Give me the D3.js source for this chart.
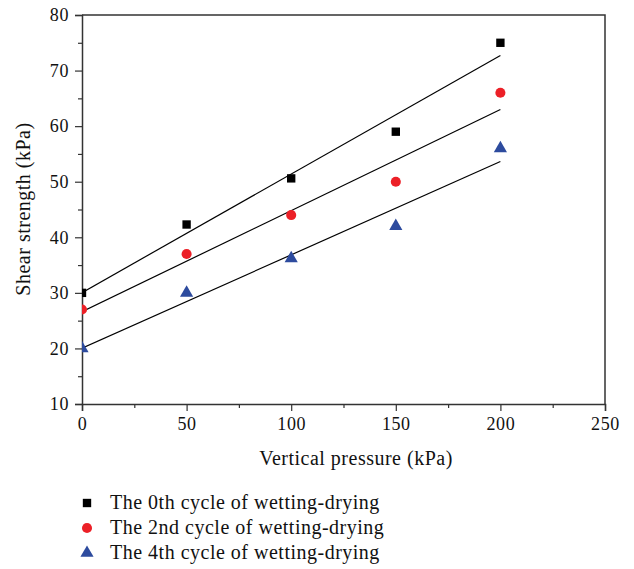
<!DOCTYPE html>
<html>
<head>
<meta charset="utf-8">
<script src="https://cdn.jsdelivr.net/npm/d3@7"></script>
<style>
  body { margin: 0; background: #fff; }
  text { font-family: "Liberation Serif", "DejaVu Serif", serif; fill: #111; }
</style>
</head>
<body>
<script>
// data
var pressure = [0, 50, 100, 150, 200];
var cycle0 = [30, 42.3, 50.6, 59, 75];
var cycle2 = [27, 37, 44, 50, 66];
var cycle4 = [20, 30, 36.2, 42, 56];
var seriesNames = ["The 0th cycle of wetting-drying", "The 2nd cycle of wetting-drying", "The 4th cycle of wetting-drying"];
var xTicks = [0, 50, 100, 150, 200, 250];
var yTicks = [10, 20, 30, 40, 50, 60, 70, 80];

var svgWidth = 634, svgHeight = 569;
// plot box (dont call these top/left, window.top is read only)
var plotLeft = 82, plotRight = 605, plotTop = 15, plotBottom = 404;

var svg = d3.select("body").append("svg")
            .attr("width", svgWidth)
            .attr("height", svgHeight);

var x = d3.scaleLinear().domain([0, 250]).range([plotLeft, plotRight]);
var y = d3.scaleLinear().domain([10, 80]).range([plotBottom, plotTop]);

var series = [
  { name: seriesNames[0], values: cycle0, shape: d3.symbolSquare, size: 70, color: "#000000" },
  { name: seriesNames[1], values: cycle2, shape: d3.symbolCircle, size: 80, color: "#ec2027" },
  { name: seriesNames[2], values: cycle4, shape: d3.symbolTriangle, size: 75, color: "#2d4b9e" }
];

// least squares fit for each series
function fit(vals) {
  var mx = d3.mean(pressure), my = d3.mean(vals);
  var num = d3.sum(pressure, function(p, i) { return (p - mx) * (vals[i] - my); });
  var den = d3.sum(pressure, function(p) { return (p - mx) * (p - mx); });
  var b = num / den;
  return { a: my - b * mx, b: b };
}

svg.append("clipPath").attr("id", "plotclip")
   .append("rect").attr("x", plotLeft).attr("y", plotTop)
   .attr("width", plotRight - plotLeft).attr("height", plotBottom - plotTop);

// frame (top + right)
svg.append("path")
   .attr("d", "M" + plotLeft + "," + plotTop + "H" + plotRight + "V" + plotBottom)
   .attr("fill", "none").attr("stroke", "#333").attr("stroke-width", 1.5);

// axes
var xAxis = svg.append("g").attr("transform", "translate(0," + plotBottom + ")")
   .call(d3.axisBottom(x).tickValues(xTicks).tickSize(7).tickPadding(6));
var xMinor = svg.append("g").attr("transform", "translate(0," + plotBottom + ")")
   .call(d3.axisBottom(x).tickValues([25, 75, 125, 175, 225]).tickSize(4).tickFormat(""));
var yAxis = svg.append("g").attr("transform", "translate(" + plotLeft + ",0)")
   .call(d3.axisLeft(y).tickValues(yTicks).tickSize(7).tickPadding(6));
var yMinor = svg.append("g").attr("transform", "translate(" + plotLeft + ",0)")
   .call(d3.axisLeft(y).tickValues([15, 25, 35, 45, 55, 65, 75]).tickSize(4).tickFormat(""));

svg.selectAll(".domain").attr("stroke", "#333").attr("stroke-width", 1.5);
svg.selectAll(".tick line").attr("stroke", "#333").attr("stroke-width", 1.2);
svg.selectAll(".tick text")
   .style("font-size", "18px")
   .style("letter-spacing", "0.6px")
   .style("font-family", "Liberation Serif, serif")
   .attr("fill", "#111");
xMinor.select(".domain").remove();
yMinor.select(".domain").remove();

var plot = svg.append("g").attr("clip-path", "url(#plotclip)");

// fitted lines
series.forEach(function(s) {
  var f = fit(s.values);
  plot.append("line")
      .attr("x1", x(0)).attr("y1", y(f.a))
      .attr("x2", x(200)).attr("y2", y(f.a + f.b * 200))
      .attr("stroke", "#000").attr("stroke-width", 1.2);
});

// markers
series.forEach(function(s) {
  plot.selectAll(null)
      .data(s.values)
      .enter()
      .append("path")
      .attr("d", d3.symbol().type(s.shape).size(s.size))
      .attr("transform", function(d, i) { return "translate(" + x(pressure[i]) + "," + y(d) + ")"; })
      .attr("fill", s.color);
});

// axis titles
svg.append("text")
   .attr("x", 356).attr("y", 465)
   .attr("text-anchor", "middle")
   .style("font-size", "20px")
   .style("letter-spacing", "0.5px")
   .text("Vertical pressure (kPa)");

svg.append("text")
   .attr("transform", "translate(30,209) rotate(-90)")
   .attr("text-anchor", "middle")
   .style("font-size", "20px")
   .style("letter-spacing", "0.5px")
   .text("Shear strength (kPa)");

// legend
var legend = svg.append("g");
series.forEach(function(s, i) {
  var ly = 503 + i * 25;
  legend.append("path")
        .attr("d", d3.symbol().type(s.shape).size(s.size))
        .attr("transform", "translate(87," + ly + ")")
        .attr("fill", s.color);
  legend.append("text")
        .attr("x", 110).attr("y", ly + 6)
        .style("font-size", "20px")
        .style("letter-spacing", "0.5px")
        .text(s.name);
});
</script>
</body>
</html>
